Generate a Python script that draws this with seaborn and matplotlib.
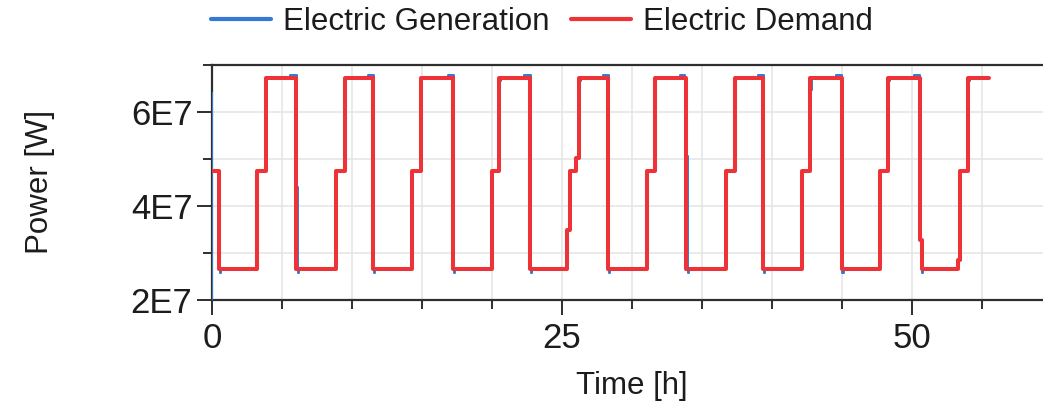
import matplotlib
matplotlib.use("Agg")
import matplotlib.pyplot as plt
from matplotlib.ticker import FuncFormatter, MultipleLocator
import pandas as pd
import seaborn as sns

# Electric demand of the plant, step profile (time in hours, power in W)
demand_t = [0.0, 0.50, 3.21, 3.85, 6.01, 8.86, 9.50, 11.54, 14.32, 14.92,
            17.25, 19.99, 20.54, 22.73, 25.40, 25.59, 26.03, 26.22, 28.32,
            31.06, 31.66, 33.85, 36.73, 37.37, 39.39, 42.14, 42.73, 44.99,
            47.73, 48.32, 50.57, 50.70, 53.33, 53.44, 54.02, 55.50]
demand_w = [4.74e7, 2.66e7, 4.74e7, 6.71e7, 2.66e7, 4.74e7, 6.71e7, 2.66e7,
            4.74e7, 6.71e7, 2.66e7, 4.74e7, 6.71e7, 2.66e7, 3.49e7, 4.74e7,
            5.01e7, 6.71e7, 2.66e7, 4.74e7, 6.71e7, 2.66e7, 4.74e7, 6.71e7,
            2.66e7, 4.74e7, 6.71e7, 2.66e7, 4.74e7, 6.71e7, 3.27e7, 2.66e7,
            2.86e7, 4.74e7, 6.71e7, 6.71e7]

# Electric generation, following the demand with small transients
generation_t = [0.00, 0.00, 0.03, 0.55, 0.65, 3.21, 3.85, 3.95, 5.60, 6.08,
                6.12, 6.22, 8.86, 9.50, 9.60, 11.13, 11.58, 11.68, 14.32,
                14.92, 15.02, 16.84, 17.29, 17.39, 19.99, 20.54, 20.64, 22.32,
                22.77, 22.87, 25.40, 25.59, 26.03, 26.27, 26.37, 27.91, 28.36,
                28.46, 31.06, 31.66, 31.76, 33.45, 33.80, 33.95, 33.98, 34.08,
                36.73, 37.37, 37.47, 38.98, 39.43, 39.53, 42.14, 42.73, 42.85,
                44.58, 45.03, 45.13, 47.73, 48.32, 48.42, 50.16, 50.57, 50.70,
                50.80, 53.33, 53.48, 54.02, 54.12, 55.50]
generation_w = [0.00e7, 6.39e7, 4.74e7, 2.58e7, 2.66e7, 4.74e7, 6.64e7,
                6.71e7, 6.78e7, 4.40e7, 2.58e7, 2.66e7, 4.74e7, 6.64e7,
                6.71e7, 6.78e7, 2.58e7, 2.66e7, 4.74e7, 6.64e7, 6.71e7,
                6.78e7, 2.58e7, 2.66e7, 4.74e7, 6.64e7, 6.71e7, 6.78e7,
                2.58e7, 2.66e7, 3.49e7, 4.74e7, 5.01e7, 6.64e7, 6.71e7,
                6.78e7, 2.58e7, 2.66e7, 4.74e7, 6.64e7, 6.71e7, 6.78e7,
                6.39e7, 5.05e7, 2.58e7, 2.66e7, 4.74e7, 6.64e7, 6.71e7,
                6.78e7, 2.58e7, 2.66e7, 4.74e7, 6.46e7, 6.71e7, 6.78e7,
                2.58e7, 2.66e7, 4.74e7, 6.64e7, 6.71e7, 6.78e7, 3.27e7,
                2.58e7, 2.66e7, 2.86e7, 4.74e7, 6.64e7, 6.71e7, 6.71e7]

series_names = ["Electric Generation", "Electric Demand"]
series_colors = ["#3479d3", "#ee3338"]
y_ticks = [2e7, 4e7, 6e7]
x_ticks = [0, 25, 50]

sns.set_theme(style="ticks")
plt.rcParams["font.family"] = ["Liberation Sans", "DejaVu Sans"]
text_color = "#1c1c1c"
axis_color = "#2e2e2e"

fig = plt.figure(figsize=(10.43, 4.04), dpi=100)
ax = fig.add_axes([0.2031, 0.2574, 0.8054, 0.5829])

gen = pd.DataFrame({"t": generation_t, "p": generation_w})
dem = pd.DataFrame({"t": demand_t, "p": demand_w})

sns.lineplot(data=gen, x="t", y="p", ax=ax, estimator=None, sort=False,
             drawstyle="steps-post", color=series_colors[0], linewidth=1.4,
             label=series_names[0], zorder=3)
sns.lineplot(data=dem, x="t", y="p", ax=ax, estimator=None, sort=False,
             drawstyle="steps-post", color=series_colors[1], linewidth=2.9,
             label=series_names[1], zorder=4)

ax.set_xlim(0, 60)
ax.set_ylim(2e7, 7e7)
ax.set_xticks(x_ticks)
ax.set_yticks(y_ticks)
ax.xaxis.set_minor_locator(MultipleLocator(5))
ax.yaxis.set_minor_locator(MultipleLocator(1e7))
ax.yaxis.set_major_formatter(FuncFormatter(lambda v, _: f"{v / 1e7:.0f}E7"))

ax.grid(True, which="both", color="#e4e4e4", linewidth=1.1, zorder=0)
ax.set_axisbelow(True)

for side in ["top", "bottom", "left"]:
    ax.spines[side].set_color(axis_color)
    ax.spines[side].set_linewidth(1.6)
ax.spines["right"].set_visible(False)

ax.tick_params(which="major", direction="out", length=11, width=1.4,
               color=axis_color, labelsize=25, labelcolor=text_color, pad=3)
ax.tick_params(which="minor", direction="out", length=6.5, width=1.4,
               color=axis_color)
ax.tick_params(axis="x", which="major", pad=5)

ax.set_xlabel("Time [h]", fontsize=22.5, color=text_color, va="center")
ax.xaxis.set_label_coords(0.5, -0.364)
ax.set_ylabel("Power [W]", fontsize=22.5, color=text_color, va="center",
              ha="center")
ax.yaxis.set_label_coords(-0.205, 0.5)

ax.get_legend().remove()
handles, labels = ax.get_legend_handles_labels()
leg = fig.legend(handles, labels, loc="center left",
                 bbox_to_anchor=(0.2023, 1 - 22 / 404), ncol=2,
                 frameon=False, fontsize=22.5, borderpad=0, borderaxespad=0,
                 handlelength=1.92, handletextpad=0.38, columnspacing=0.7)
for line in leg.get_lines():
    line.set_linewidth(3)
for txt in leg.get_texts():
    txt.set_color(text_color)

fig.savefig("out.png", dpi=100)
